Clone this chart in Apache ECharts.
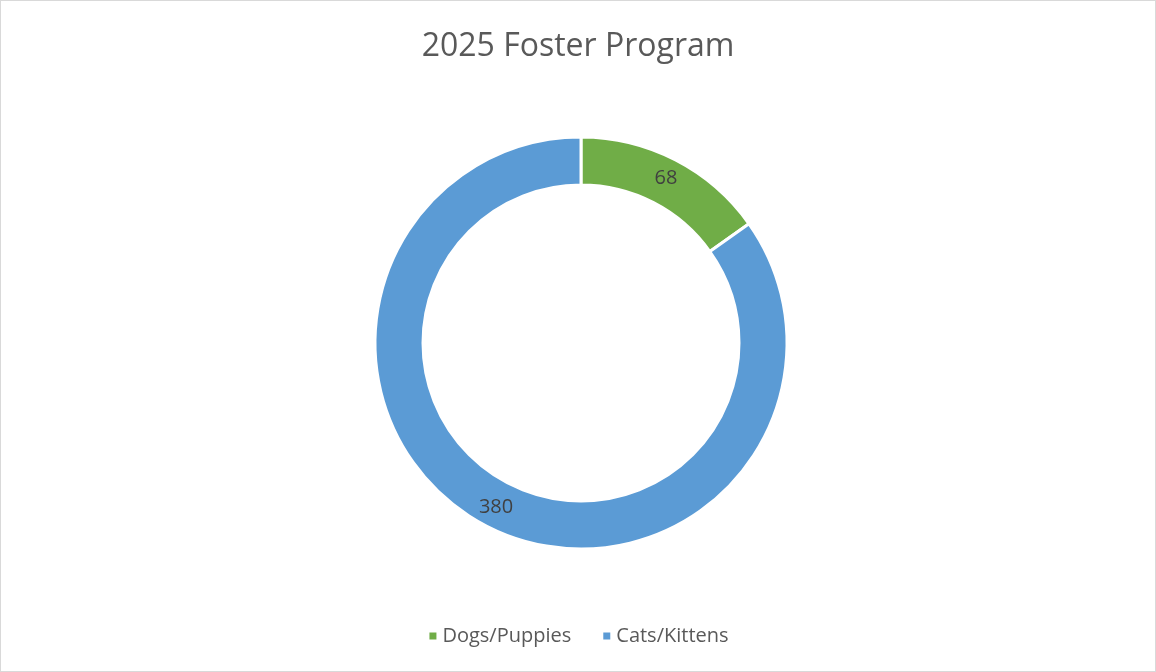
<!DOCTYPE html>
<html>
<head>
    <meta charset="utf-8">
    <title>2025 Foster Program</title>
    <script src="https://cdn.jsdelivr.net/npm/echarts@6/dist/echarts.min.js"></script>
    <style>
        html, body { margin: 0; padding: 0; background: #fff; }
        #main { width: 1154px; height: 670px; border: 1px solid #d9d9d9; }
    </style>
</head>
<body>
    <div id="main"></div>
    <script type="text/javascript">
    var categories = ['Dogs/Puppies', 'Cats/Kittens'];
    var counts = [68, 380];
    var colors = ['#70ad47', '#5b9bd5'];

    var myChart = echarts.init(document.getElementById('main'));
    var option = {
        animation: false,
        title: {
            text: '2025 Foster Program',
            left: 'center',
            top: 25,
            textStyle: {
                fontFamily: 'Open Sans',
                fontSize: 32,
                fontWeight: 'normal',
                color: '#595959'
            }
        },
        legend: {
            bottom: 20,
            left: 'center',
            icon: 'rect',
            itemWidth: 9,
            itemHeight: 9,
            itemGap: 30,
            textStyle: {
                fontFamily: 'Open Sans',
                fontSize: 20,
                color: '#595959'
            },
            data: categories
        },
        series: [{
            type: 'pie',
            center: [580, 342],
            radius: [158, 206],
            startAngle: 90,
            clockwise: true,
            color: colors,
            itemStyle: { borderColor: '#fff', borderWidth: 3 },
            label: {
                show: true,
                position: 'inside',
                formatter: '{c}',
                fontFamily: 'Open Sans',
                fontSize: 20,
                color: '#404040'
            },
            labelLine: { show: false },
            emphasis: { disabled: true },
            data: categories.map(function (c, i) {
                return { name: c, value: counts[i] };
            })
        }]
    };
    myChart.setOption(option);
    </script>
</body>
</html>
